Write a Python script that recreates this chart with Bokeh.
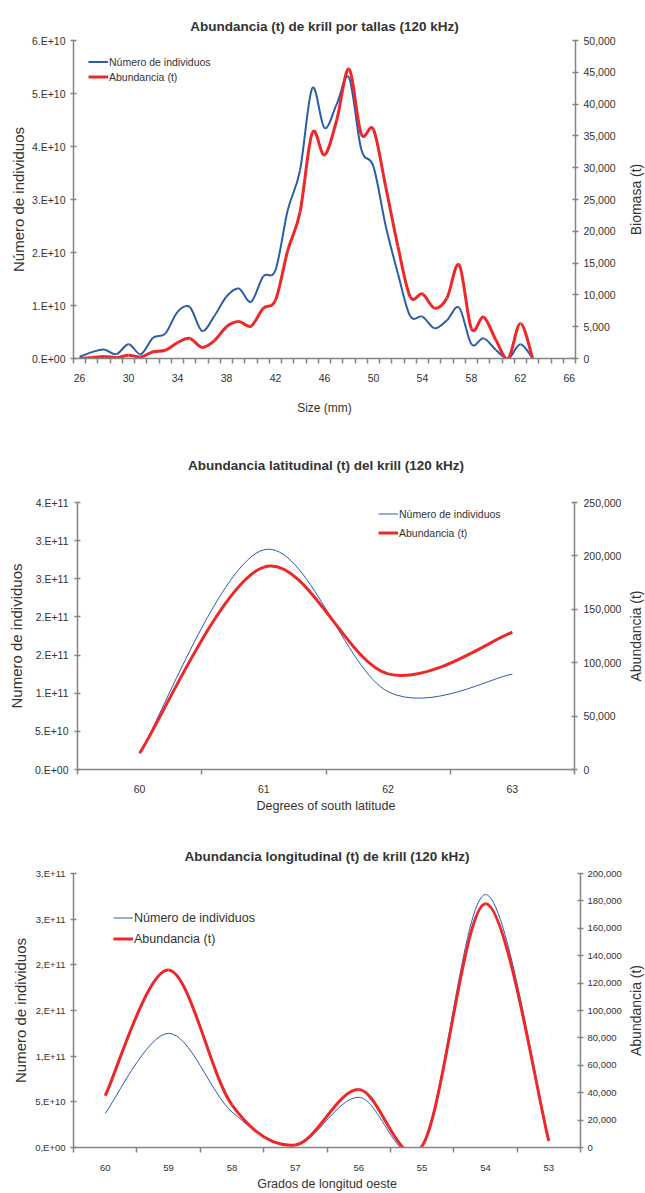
import math
from bokeh.plotting import figure
from bokeh.models import (Range1d, LinearAxis, FixedTicker, NumeralTickFormatter,
                          Legend, LegendItem, ColumnDataSource)
from bokeh.core.properties import value
from bokeh.layouts import column, row
from bokeh.embed import file_html
from bokeh.resources import INLINE

FONT = "Liberation Sans"
TEXT = "#333333"
AXIS = "#858585"
BLUE = "#2b5cad"
RED = "#ee2828"

# ---------------- Chart 1: abundance by size ----------------
talla_mm = list(range(26, 64))
talla_individuos = [3.0e8, 1.2e9, 1.7e9, 8.0e8, 2.7e9, 8.0e8, 3.9e9, 4.7e9, 8.8e9, 9.7e9,
                    5.2e9, 8.0e9, 1.17e10, 1.32e10, 1.07e10, 1.55e10, 1.67e10, 2.80e10, 3.55e10, 5.10e10,
                    4.35e10, 4.80e10, 5.30e10, 3.95e10, 3.62e10, 2.50e10, 1.60e10, 8.0e9, 7.9e9, 5.7e9,
                    7.2e9, 9.6e9, 2.7e9, 3.8e9, 1.6e9, 0.0, 2.7e9, 0.0]
talla_biomasa = [0, 150, 300, 150, 500, 250, 1050, 1300, 2500, 3150,
                 1750, 2800, 5000, 5800, 5100, 7900, 9200, 17000, 23000, 35500,
                 32000, 37500, 45500, 35300, 36000, 27000, 17600, 9700, 10150, 7900,
                 9500, 14700, 4700, 6500, 2900, 0, 5500, 0]
talla_x_labels = [26, 30, 34, 38, 42, 46, 50, 54, 58, 62, 66]
talla_left_ticks = [0, 10000000000, 20000000000, 30000000000, 40000000000, 50000000000, 60000000000]
talla_left_labels = ["0.E+00", "1.E+10", "2.E+10", "3.E+10", "4.E+10", "5.E+10", "6.E+10"]
talla_right_ticks = [0, 5000, 10000, 15000, 20000, 25000, 30000, 35000, 40000, 45000, 50000]

# ---------------- Chart 2: latitudinal abundance ----------------
lat_grados = [60, 61, 62, 63]
lat_individuos = [2.13e10, 2.88e11, 1.02e11, 1.25e11]
lat_abundancia = [15300, 189500, 89500, 128500]
lat_left_ticks = [0, 50000000000, 100000000000, 150000000000, 200000000000,
                  250000000000, 300000000000, 350000000000]
lat_left_labels = ["0.E+00", "5.E+10", "1.E+11", "2.E+11", "2.E+11", "3.E+11", "3.E+11", "4.E+11"]
lat_right_ticks = [0, 50000, 100000, 150000, 200000, 250000]

# ---------------- Chart 3: longitudinal abundance ----------------
lon_grados = [60, 59, 58, 57, 56, 55, 54, 53]
lon_individuos = [3.75e10, 1.25e11, 3.9e10, 3.0e9, 5.5e10, 2.0e9, 2.77e11, 7.0e9]
lon_abundancia = [37800, 129500, 31100, 1900, 42300, 1000, 177900, 4800]
lon_left_ticks = [0, 50000000000, 100000000000, 150000000000, 200000000000,
                  250000000000, 300000000000]
lon_left_labels = ["0,E+00", "5,E+10", "1,E+11", "2,E+11", "2,E+11", "3,E+11", "3,E+11"]
lon_right_ticks = [0, 20000, 40000, 60000, 80000, 100000, 120000, 140000, 160000, 180000, 200000]

LEG_A = "Número de individuos"
LEG_B = "Abundancia (t)"

MAIN_W = 624
STRIP_W = 21


def smooth_source(xs, ys):
    """Cubic Bezier segments through the data points (Excel-like smoothing)."""
    n = len(xs)
    d = dict(x0=[], y0=[], x1=[], y1=[], cx0=[], cy0=[], cx1=[], cy1=[])
    for i in range(n - 1):
        a = max(i - 1, 0)
        b = min(i + 2, n - 1)
        d["x0"].append(xs[i]); d["y0"].append(ys[i])
        d["x1"].append(xs[i + 1]); d["y1"].append(ys[i + 1])
        d["cx0"].append(xs[i] + (xs[i + 1] - xs[a]) / 6.0)
        d["cy0"].append(ys[i] + (ys[i + 1] - ys[a]) / 6.0)
        d["cx1"].append(xs[i + 1] - (xs[b] - xs[i]) / 6.0)
        d["cy1"].append(ys[i + 1] - (ys[b] - ys[i]) / 6.0)
    return ColumnDataSource(d)


def style_axis(ax, fs, title_fs):
    ax.axis_line_color = AXIS
    ax.axis_line_width = 1.5
    ax.major_tick_line_color = AXIS
    ax.major_tick_line_width = 1.5
    ax.minor_tick_line_color = AXIS
    ax.minor_tick_line_width = 1.5
    ax.major_label_text_font = FONT
    ax.major_label_text_font_size = fs
    ax.major_label_text_color = TEXT
    ax.axis_label_text_font = FONT
    ax.axis_label_text_font_size = title_fs
    ax.axis_label_text_font_style = "normal"
    ax.axis_label_text_color = TEXT


def title_strip(height, top, bottom, text):
    """Narrow panel to the right carrying the right-hand axis title (reads bottom-to-top)."""
    s = figure(width=STRIP_W, height=height, output_backend="svg", toolbar_location=None,
               x_range=Range1d(0, 1), y_range=Range1d(0, 1),
               x_axis_location=None, y_axis_location=None,
               min_border_top=top, min_border_bottom=bottom,
               min_border_left=0, min_border_right=0)
    s.grid.visible = False
    s.outline_line_color = None
    s.background_fill_color = "white"
    s.border_fill_color = "white"
    s.text(x=[0.55], y=[0.5], text=[text], angle=math.pi / 2,
           text_align="center", text_baseline="middle",
           text_font=value(FONT), text_font_size="14px", text_color=TEXT)
    return s


def make_chart(height, border, title, title_standoff, xs, individuos, abundancia,
               x_bounds, x_labels, left_max, left_ticks, left_labels,
               right_max, right_ticks, x_title, left_title, right_title,
               tick_fs, xtitle_fs, legend_xy, legend_row, legend_fs,
               blue_w, red_w, x_std, y_std):
    top, bottom, left, right = border
    p = figure(width=MAIN_W, height=height, output_backend="svg", toolbar_location=None,
               x_range=Range1d(*x_bounds), y_range=Range1d(0, left_max),
               min_border_top=top, min_border_bottom=bottom,
               min_border_left=left, min_border_right=right, title=title)
    p.extra_y_ranges = {"r": Range1d(0, right_max)}
    p.outline_line_color = None
    p.xgrid.visible = False
    p.ygrid.visible = False
    p.background_fill_color = "white"
    p.border_fill_color = "white"

    p.title.align = "center"
    p.title.text_font = FONT
    p.title.text_font_size = "13.5px"
    p.title.text_font_style = "bold"
    p.title.text_color = TEXT
    p.title.standoff = title_standoff

    lo, hi = min(x_bounds), max(x_bounds)
    boundaries = [lo + k for k in range(int(round(hi - lo)) + 1)]

    xa = p.xaxis[0]
    style_axis(xa, tick_fs, xtitle_fs)
    xa.ticker = FixedTicker(ticks=x_labels, minor_ticks=boundaries)
    xa.major_label_overrides = {int(t): str(t) for t in x_labels}
    xa.major_tick_line_color = None
    xa.major_tick_in = 0
    xa.major_tick_out = 0
    xa.minor_tick_in = 0
    xa.minor_tick_out = 5
    xa.major_label_standoff = x_std[0]
    xa.axis_label = x_title
    xa.axis_label_standoff = x_std[1]

    ya = p.yaxis[0]
    style_axis(ya, tick_fs, "15px")
    ya.ticker = FixedTicker(ticks=left_ticks, minor_ticks=[])
    ya.major_label_overrides = {int(t): s for t, s in zip(left_ticks, left_labels)}
    ya.major_tick_in = 3
    ya.major_tick_out = 3
    ya.major_label_standoff = y_std[0]
    ya.axis_label = left_title
    ya.axis_label_standoff = y_std[1]

    ra = LinearAxis(y_range_name="r")
    style_axis(ra, tick_fs, "15px")
    ra.ticker = FixedTicker(ticks=right_ticks, minor_ticks=[])
    ra.formatter = NumeralTickFormatter(format="0,0")
    ra.major_tick_in = 3
    ra.major_tick_out = 3
    ra.major_label_standoff = y_std[2]
    p.add_layout(ra, "right")

    rb = p.bezier(source=smooth_source(xs, individuos), x0="x0", y0="y0", x1="x1", y1="y1",
                  cx0="cx0", cy0="cy0", cx1="cx1", cy1="cy1",
                  line_color=BLUE, line_width=blue_w)
    rr = p.bezier(source=smooth_source(xs, abundancia), x0="x0", y0="y0", x1="x1", y1="y1",
                  cx0="cx0", cy0="cy0", cx1="cx1", cy1="cy1",
                  line_color=RED, line_width=red_w, y_range_name="r")

    leg = Legend(items=[LegendItem(label=LEG_A, renderers=[rb]),
                        LegendItem(label=LEG_B, renderers=[rr])],
                 location=legend_xy, padding=0, margin=0, spacing=0,
                 glyph_width=20, glyph_height=legend_row, label_height=legend_row,
                 label_standoff=1, border_line_color=None, background_fill_alpha=0,
                 label_text_font=FONT, label_text_font_size=legend_fs,
                 label_text_color=TEXT)
    p.add_layout(leg)
    return row(p, title_strip(height, top, bottom, right_title), spacing=0)


c1 = make_chart(425, (40, 67, 73, MAIN_W - 575), "Abundancia (t) de krill por tallas (120 kHz)", 14,
                talla_mm, talla_individuos, talla_biomasa, (25.5, 66.5), talla_x_labels,
                60000000000, talla_left_ticks, talla_left_labels, 50000, talla_right_ticks,
                "Size (mm)", "Número de individuos", "Biomasa (t)",
                "10.5px", "12px", (15, 274), 15, "10.5px", 2, 3,
                (10, 16), (5, 2, 5))

c2 = make_chart(395, (77, 51, 77, MAIN_W - 576), "Abundancia latitudinal (t) del krill (120 kHz)", 60,
                lat_grados, lat_individuos, lat_abundancia, (59.5, 63.5), lat_grados,
                350000000000, lat_left_ticks, lat_left_labels, 250000, lat_right_ticks,
                "Degrees of south latitude", "Numero de individuos", "Abundancia (t)",
                "10.5px", "12.5px", (301, 227), 19, "10.5px", 1, 3,
                (10, 3), (6, 7, 6))

c3 = make_chart(373, (53, 40, 73, MAIN_W - 581), "Abundancia longitudinal (t) de krill (120 kHz)", 19,
                lon_grados, lon_individuos, lon_abundancia, (60.5, 52.5), lon_grados,
                300000000000, lon_left_ticks, lon_left_labels, 200000, lon_right_ticks,
                "Grados de longitud oeste", "Numero de individuos", "Abundancia (t)",
                "9.5px", "12.5px", (40, 198), 21, "12.5px", 1, 3,
                (12, 3), (5, 3, 4))

layout = column(c1, c2, c3, spacing=0)
open("out.html", "w").write(file_html(layout, INLINE))
